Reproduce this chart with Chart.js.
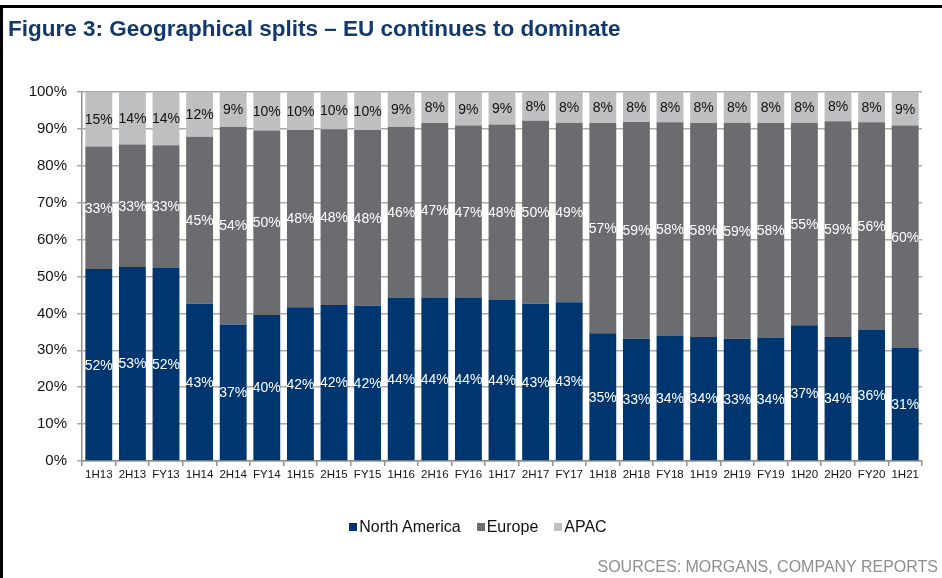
<!DOCTYPE html>
<html>
<head>
<meta charset="utf-8">
<title>Geographical splits</title>
<script src="https://cdn.jsdelivr.net/npm/chart.js@4.4.1/dist/chart.umd.min.js"></script>
<style>
  body { margin: 0; background: #fff; font-family: "Liberation Sans", Arial, sans-serif; }
  #page { position: relative; width: 942px; height: 578px; overflow: hidden; background: #fff; }
  #frameTop { position: absolute; left: 0; top: 5px; width: 942px; height: 3px; background: #000; z-index: 2; }
  #frameLeft { position: absolute; left: 0; top: 5px; width: 3px; height: 573px; background: #000; z-index: 2; }
  #title { position: absolute; left: 8px; top: 16px; font-weight: bold; font-size: 22.5px; color: #12396d; white-space: nowrap; z-index: 2; }
  #chart { position: absolute; left: 0; top: 0; }
  #legend { position: absolute; left: 7px; width: 942px; top: 518px; text-align: center; font-size: 16px; color: #111; z-index: 2; }
  #legend span.item { display: inline-block; margin: 0 8px; }
  #legend span.box { display: inline-block; width: 8px; height: 8px; margin-right: 2px; vertical-align: 1px; }
  #source { position: absolute; right: 4px; top: 558px; font-size: 16px; color: #8e8e8e; white-space: nowrap; z-index: 2; }
</style>
</head>
<body>
<div id="page">
  <div id="frameTop"></div>
  <div id="frameLeft"></div>
  <div id="title">Figure 3: Geographical splits – EU continues to dominate</div>
  <canvas id="chart" width="942" height="578"></canvas>
  <div id="legend"></div>
  <div id="source">SOURCES: MORGANS, COMPANY REPORTS</div>
</div>
<script>
// reporting periods
var periods = ['1H13', '2H13', 'FY13', '1H14', '2H14', 'FY14', '1H15', '2H15', 'FY15',
  '1H16', '2H16', 'FY16', '1H17', '2H17', 'FY17', '1H18', '2H18', 'FY18',
  '1H19', '2H19', 'FY19', '1H20', '2H20', 'FY20', '1H21'];

// revenue share by region (%)
var northAmerica = [52.0, 52.6, 52.3, 42.6, 37.0, 39.6, 41.7, 42.3, 42.1,
  44.3, 44.2, 44.2, 43.6, 42.6, 43.0, 34.6, 33.1, 33.9,
  33.6, 33.1, 33.5, 36.8, 33.6, 35.5, 30.6];
var europe = [33.2, 33.2, 33.3, 45.3, 53.6, 50.0, 48.0, 47.6, 47.6,
  46.3, 47.4, 46.7, 47.6, 49.6, 48.7, 57.0, 58.8, 57.9,
  58.0, 58.6, 58.1, 54.9, 58.5, 56.3, 60.3];
var apac = [14.8, 14.2, 14.4, 12.1, 9.4, 10.4, 10.3, 10.1, 10.3,
  9.4, 8.4, 9.1, 8.8, 7.8, 8.3, 8.4, 8.1, 8.2,
  8.4, 8.3, 8.4, 8.3, 7.9, 8.2, 9.1];

var yTicks = [0, 10, 20, 30, 40, 50, 60, 70, 80, 90, 100];

var regionNames = ['North America', 'Europe', 'APAC'];
var regionColors = ['#003670', '#6b6c70', '#bebfc1'];
var labelColors = ['#ffffff', '#ffffff', '#111111'];

var FONT = '"Liberation Sans", Arial, sans-serif';

// percentage text in the middle of every segment
const segmentLabels = {
  id: 'segmentLabels',
  afterDatasetsDraw(chart) {
    const ctx = chart.ctx;
    ctx.save();
    ctx.font = '14px ' + FONT;
    ctx.textAlign = 'center';
    ctx.textBaseline = 'middle';
    chart.data.datasets.forEach((ds, i) => {
      const meta = chart.getDatasetMeta(i);
      ctx.fillStyle = labelColors[i];
      meta.data.forEach((bar, j) => {
        ctx.fillText(Math.round(ds.data[j]) + '%', bar.x, (bar.y + bar.base) / 2 + 1);
      });
    });
    ctx.restore();
  }
};

var seriesData = [northAmerica, europe, apac];
var datasets = regionNames.map((name, i) => ({
  label: name,
  data: seriesData[i],
  backgroundColor: regionColors[i],
  borderWidth: 0,
  barPercentage: 0.8,
  categoryPercentage: 1.0
}));

new Chart(document.getElementById('chart'), {
  type: 'bar',
  data: { labels: periods, datasets: datasets },
  options: {
    responsive: false,
    animation: false,
    layout: { padding: { top: 92, right: 20, bottom: 87, left: 0 } },
    plugins: {
      legend: { display: false },
      tooltip: { enabled: false }
    },
    scales: {
      x: {
        stacked: true,
        grid: { drawOnChartArea: false, drawTicks: true, tickLength: 5, color: '#8f8f8f', lineWidth: 1.5 },
        border: { color: '#8f8f8f', width: 1.5 },
        ticks: { color: '#111', font: { family: FONT, size: 11.5 }, padding: 2, maxRotation: 0, autoSkip: false },
        afterFit: (s) => { s.height = 30; }
      },
      y: {
        stacked: true,
        min: 0,
        max: 100,
        afterBuildTicks: (s) => { s.ticks = yTicks.map(v => ({ value: v })); },
        grid: { color: '#a9a9a9', lineWidth: 1.5, tickLength: 5 },
        border: { color: '#8f8f8f', width: 1.5 },
        ticks: { color: '#111', font: { family: FONT, size: 15 }, padding: 10, callback: (v) => v + '%' },
        afterFit: (s) => { s.width = 82; }
      }
    }
  },
  plugins: [segmentLabels]
});

// legend row
var legend = document.getElementById('legend');
regionNames.forEach((name, i) => {
  var item = document.createElement('span');
  item.className = 'item';
  var box = document.createElement('span');
  box.className = 'box';
  box.style.background = regionColors[i];
  item.appendChild(box);
  item.appendChild(document.createTextNode(name));
  legend.appendChild(item);
});
</script>
</body>
</html>
